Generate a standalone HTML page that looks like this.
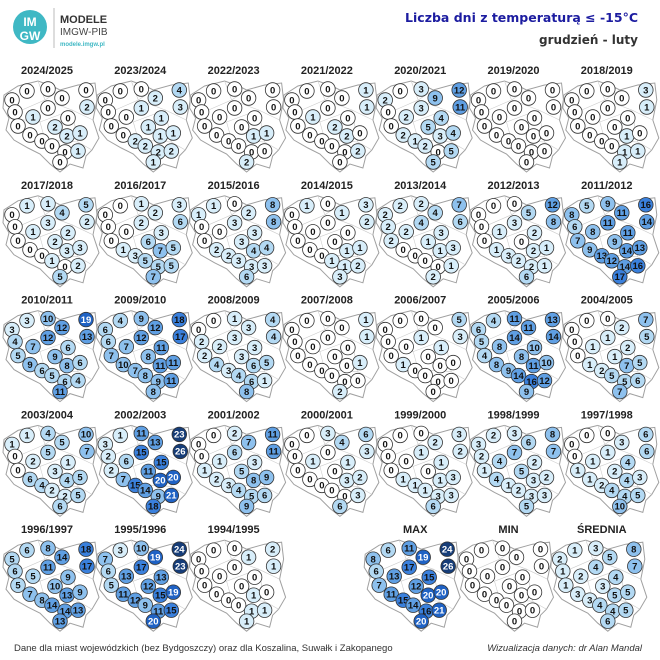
<!DOCTYPE html>
<html><head><meta charset="utf-8">
<style>
html,body{margin:0;padding:0;background:#fff;}
svg{display:block;font-family:"Liberation Sans","DejaVu Sans",sans-serif;}
</style></head>
<body>
<svg id="s" width="660" height="660" viewBox="0 0 660 660" xmlns="http://www.w3.org/2000/svg">
<rect width="660" height="660" fill="#fff"/>
<circle cx="30" cy="27" r="17" fill="#3fb8c4"/>
<text x="30" y="26" text-anchor="middle" font-size="12" font-weight="bold" fill="#fff">IM</text>
<text x="30" y="40" text-anchor="middle" font-size="12" font-weight="bold" fill="#fff">GW</text>
<line x1="54" y1="8" x2="54" y2="48" stroke="#bbb" stroke-width="1"/>
<text x="60" y="23" font-size="11" font-weight="bold" fill="#333">MODELE</text>
<text x="60" y="35" font-size="10" fill="#444">IMGW-PIB</text>
<text x="60" y="46" font-size="6" font-weight="bold" fill="#3fb8c4">modele.imgw.pl</text>
<text x="638" y="22" text-anchor="end" font-family="DejaVu Sans, sans-serif" font-size="12.5" font-weight="bold" fill="#1c1ca0">Liczba dni z temperaturą ≤ -15°C</text>
<text x="638" y="44" text-anchor="end" font-family="DejaVu Sans, sans-serif" font-size="12" font-weight="bold" fill="#333">grudzień - luty</text>
<g id="maps"></g>
<text x="14" y="651" font-size="9.5" fill="#333">Dane dla miast wojewódzkich (bez Bydgoszczy) oraz dla Koszalina, Suwałk i Zakopanego</text>
<text x="642" y="651" text-anchor="end" font-size="9.5" font-style="italic" fill="#333">Wizualizacja danych: dr Alan Mandal</text>
</svg>
<script>
var P=[[12,20],[27,11],[48,9],[62,18],[86,10],[87,27],[15,32],[33,37],[48,28],[68,38],[18,46],[55,47],[67,56],[80,53],[30,55],[42,61],[52,66],[65,72],[78,71],[60,82]];
var M=[
["2024/2025",[0,0,0,0,0,2,0,1,0,0,0,2,2,1,0,0,0,0,1,0]],
["2023/2024",[0,0,0,2,4,3,0,0,1,1,0,1,1,1,0,2,2,2,2,1]],
["2022/2023",[0,0,0,0,0,0,0,0,0,0,0,0,1,1,0,0,0,0,0,2]],
["2021/2022",[0,0,0,0,1,1,0,1,0,0,0,2,2,0,0,0,0,0,2,0]],
["2020/2021",[2,0,3,9,12,11,0,2,3,4,0,5,3,4,2,1,2,0,5,5]],
["2019/2020",[0,0,0,0,0,0,0,0,0,0,0,0,0,0,0,0,0,0,0,0]],
["2018/2019",[0,0,0,0,3,1,0,0,0,0,0,0,1,0,0,0,0,1,1,1]],
["2017/2018",[0,1,1,4,5,2,0,1,3,2,0,2,3,3,0,0,1,0,2,5]],
["2016/2017",[0,0,1,2,3,6,0,0,2,3,0,6,7,5,1,3,5,5,5,7]],
["2015/2016",[1,1,0,2,8,8,0,0,3,3,0,3,4,4,2,2,3,3,3,6]],
["2014/2015",[0,1,0,1,3,2,0,0,0,0,0,0,1,1,0,0,1,1,2,3]],
["2013/2014",[2,2,2,4,7,6,2,2,4,3,2,1,1,3,0,0,0,0,1,2]],
["2012/2013",[0,0,0,5,12,8,0,1,3,2,0,0,2,1,1,3,2,2,1,6]],
["2011/2012",[8,5,9,11,16,14,6,8,11,11,7,9,14,13,9,13,12,14,16,17]],
["2010/2011",[3,3,10,12,19,13,4,7,12,6,5,9,8,6,9,6,5,6,4,11]],
["2009/2010",[6,4,9,12,18,17,6,7,12,11,7,8,11,11,10,7,8,9,11,8]],
["2008/2009",[0,0,1,3,4,4,2,2,3,3,2,3,6,5,4,3,4,6,1,8]],
["2007/2008",[0,0,0,0,1,1,0,0,0,0,0,0,0,1,0,0,0,0,0,2]],
["2006/2007",[0,0,0,0,5,3,0,0,1,1,0,0,0,0,1,0,0,0,0,0]],
["2005/2006",[6,4,11,11,13,14,5,8,14,10,4,8,11,10,8,9,14,16,12,9]],
["2004/2005",[0,0,0,2,7,5,0,1,1,2,0,1,7,5,1,2,5,5,6,7]],
["2003/2004",[1,1,4,5,10,7,0,2,5,1,0,3,4,5,6,4,2,2,5,6]],
["2002/2003",[3,1,11,13,23,26,2,6,15,15,2,11,20,20,7,15,14,9,21,18]],
["2001/2002",[0,0,2,7,11,11,0,1,6,3,1,5,8,9,2,3,4,5,6,9]],
["2000/2001",[0,0,3,4,6,3,0,1,0,1,0,0,3,2,0,0,0,0,3,6]],
["1999/2000",[0,0,0,2,3,2,0,0,1,1,0,0,1,3,1,1,1,3,3,6]],
["1998/1999",[3,2,3,6,8,7,2,4,7,2,1,5,3,2,4,1,2,3,3,5]],
["1997/1998",[0,0,0,3,6,6,0,1,1,4,1,2,4,3,1,2,4,4,5,10]],
["1996/1997",[5,6,8,14,18,17,6,5,11,9,5,10,13,9,7,8,14,14,13,13]],
["1995/1996",[7,3,10,19,24,23,6,13,17,13,5,12,15,19,11,12,9,11,15,20]],
["1994/1995",[0,0,0,1,2,1,0,0,0,0,0,0,1,0,0,0,0,1,1,1]],
null,
["MAX",[8,6,11,19,24,26,6,13,17,15,7,12,20,20,11,15,14,16,21,20]],
["MIN",[0,0,0,0,0,0,0,0,0,0,0,0,0,0,0,0,0,0,0,0]],
["ŚREDNIA",[2,1,3,5,8,7,1,2,4,4,1,3,5,5,3,3,4,4,5,6]]
];
var OUT="4,15 18,6 38,1 52,6 60,10 78,5 95,3 97,20 93,40 99,58 92,70 86,76 83,88 70,84 60,92 50,84 40,74 28,68 14,60 6,50 9,38 3,28";
function col(v){
 if(v==0)return["#fff","#111"];
 if(v<=3)return["#d8eefa","#111"];
 if(v<=6)return["#b3d9f3","#111"];
 if(v<=10)return["#8ec1ee","#111"];
 if(v<=14)return["#5f9fe3","#111"];
 if(v<=18)return["#3a80dc","#111"];
 if(v<=22)return["#1f62c4","#fff"];
 return["#163d78","#fff"];
}
var h="";
for(var i=0;i<M.length;i++){
 if(!M[i])continue;
 var r=Math.floor(i/7),c=i%7;
 var ox=93.3*c, oy=80+114.8*r, ty=74+114.8*r;
 var tx=47+93.3*c;
 if(r==4&&c>=4){ox-=12;tx-=5;}
 h+='<text x="'+tx.toFixed(1)+'" y="'+ty.toFixed(1)+'" text-anchor="middle" font-size="11" font-weight="bold" fill="#222">'+M[i][0]+'</text>';
 h+='<g transform="translate('+ox.toFixed(1)+','+oy.toFixed(1)+')">';
 h+='<polygon points="'+OUT+'" fill="#fff" stroke="#a0a0a0" stroke-width="1"/>';
 h+='<polyline points="38,1 45,20 60,10" fill="none" stroke="#ccc" stroke-width="0.6"/>';
 h+='<polyline points="22,30 45,20 72,30 93,40" fill="none" stroke="#ccc" stroke-width="0.6"/>';
 h+='<polyline points="9,38 40,42 72,30 78,62 92,70" fill="none" stroke="#ccc" stroke-width="0.6"/>';
 h+='<polyline points="40,42 45,60 78,62" fill="none" stroke="#ccc" stroke-width="0.6"/>';
 var v=M[i][1];
 for(var k=0;k<20;k++){
  var cc=col(v[k]);
  h+='<circle cx="'+P[k][0]+'" cy="'+P[k][1]+'" r="7.3" fill="'+cc[0]+'" stroke="#333" stroke-width="0.8"/>';
  h+='<text x="'+P[k][0]+'" y="'+(P[k][1]+3.3)+'" text-anchor="middle" font-size="9.5" font-weight="bold" fill="'+cc[1]+'">'+v[k]+'</text>';
 }
 h+='</g>';
}
document.getElementById("maps").innerHTML=h;
</script>
</body></html>
